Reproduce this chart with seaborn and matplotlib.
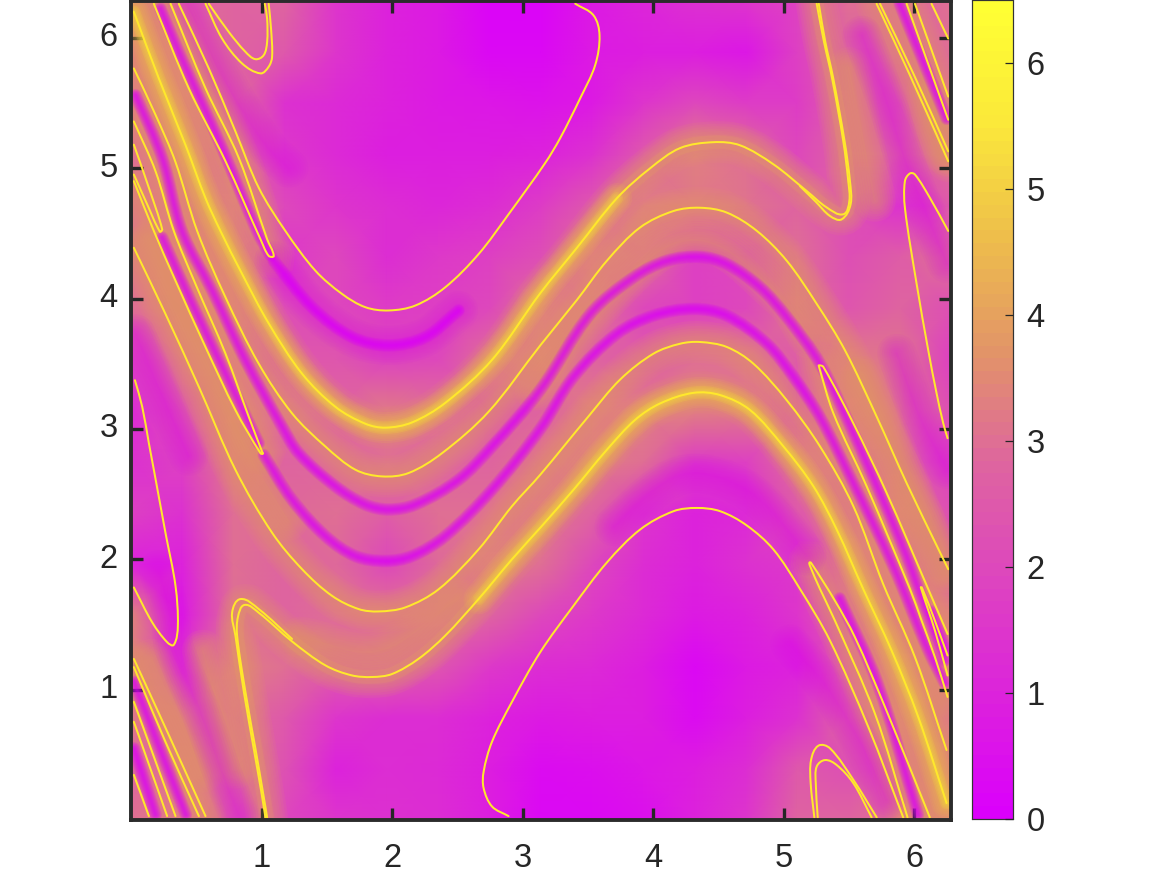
import numpy as np
import seaborn as sns
import matplotlib.pyplot as plt
from matplotlib.colors import LinearSegmentedColormap
from matplotlib.patches import PathPatch
from matplotlib.path import Path
from matplotlib.transforms import Affine2D

# field sampled on a coarse grid, rows from y=0 upwards, pi/8 spacing
field = [
    [3.0, 3.3, 2.5, 2.0, 1.5, 1.4, 1.3, 0.9, 0.3, 0.3, 0.5, 1.0, 1.5, 2.8, 2.8, 3.0, 3.5],
    [2.8, 3.2, 3.0, 2.3, 1.0, 1.3, 1.2, 0.9, 0.4, 0.5, 0.7, 0.9, 1.3, 2.5, 2.2, 3.0, 3.3],
    [3.2, 3.0, 3.0, 2.5, 1.5, 1.3, 1.3, 1.0, 0.8, 0.9, 0.9, 0.4, 0.9, 1.4, 2.8, 3.3, 3.0],
    [3.3, 1.8, 3.3, 3.0, 2.6, 2.8, 2.4, 1.6, 1.3, 1.2, 0.9, 0.3, 0.8, 1.0, 2.6, 3.3, 3.0],
    [3.4, 0.8, 3.0, 2.8, 3.0, 3.1, 3.0, 2.8, 2.0, 1.6, 1.2, 0.8, 1.0, 1.5, 2.8, 3.0, 3.2],
    [1.0, 1.0, 3.0, 2.8, 2.9, 2.0, 2.9, 3.2, 3.0, 2.0, 1.3, 1.0, 1.4, 1.6, 3.0, 3.0, 2.5],
    [1.8, 1.4, 3.0, 2.9, 3.0, 2.6, 3.0, 3.0, 3.2, 2.8, 1.5, 1.0, 1.2, 2.5, 2.8, 3.2, 2.2],
    [1.4, 1.8, 3.2, 2.8, 2.8, 3.0, 2.8, 2.8, 3.1, 3.3, 3.0, 1.7, 1.8, 3.0, 3.0, 2.6, 1.8],
    [1.2, 2.4, 3.2, 3.0, 2.8, 3.2, 3.0, 2.6, 2.8, 3.2, 3.3, 3.3, 3.2, 2.4, 3.2, 3.0, 2.2],
    [1.8, 3.0, 3.0, 2.5, 2.4, 1.9, 2.0, 3.0, 3.3, 2.8, 2.5, 3.0, 3.0, 2.6, 3.2, 3.1, 1.8],
    [3.0, 3.3, 3.2, 2.2, 2.0, 1.7, 1.8, 2.0, 3.2, 3.0, 2.0, 1.8, 2.0, 3.0, 2.4, 2.8, 2.2],
    [3.1, 3.2, 3.2, 1.6, 2.0, 1.3, 1.6, 1.8, 2.2, 3.2, 3.0, 1.8, 2.0, 3.0, 2.2, 2.6, 3.0],
    [3.1, 3.0, 3.2, 2.0, 1.5, 1.3, 1.1, 1.3, 1.7, 2.5, 3.3, 3.2, 3.1, 2.8, 2.2, 1.4, 2.5],
    [2.8, 3.2, 3.0, 1.6, 1.2, 0.9, 0.9, 0.9, 1.0, 1.4, 2.5, 3.3, 3.0, 2.0, 2.8, 2.8, 3.0],
    [3.0, 3.3, 3.0, 1.4, 1.2, 1.0, 0.8, 0.7, 0.6, 0.8, 1.5, 2.0, 1.7, 1.7, 2.8, 2.4, 3.0],
    [3.2, 3.3, 2.8, 2.5, 1.5, 1.0, 0.8, 0.3, 0.3, 0.8, 0.9, 0.9, 0.7, 1.8, 2.8, 2.8, 3.0],
    [3.3, 2.8, 2.8, 2.8, 1.5, 1.0, 0.8, 0.2, 0.2, 0.8, 1.1, 1.4, 1.5, 1.9, 3.0, 2.8, 3.0],
]

# yellow contour lines
arc_high = [(.366, 6.262), (.596, 5.766), (.8, 5.283), (.979, 4.85), (1.183, 4.519), (1.413, 4.214), (1.617, 4.036),
            (1.796, 3.934), (1.974, 3.909), (2.179, 3.947), (2.408, 4.087), (2.663, 4.341), (2.893, 4.647),
            (3.174, 5.041), (3.289, 5.232), (3.442, 5.537), (3.557, 5.792), (3.59, 6.02), (3.544, 6.173), (3.404, 6.262)]
arc_301 = [(.022, 6.2), (.213, 5.69), (.417, 5.18), (.571, 4.77), (.685, 4.52), (.851, 4.19), (1.055, 3.81),
           (1.31, 3.425), (1.566, 3.17), (1.796, 3.04), (1.95, 3.01), (2.153, 3.05), (2.408, 3.2), (2.766, 3.53),
           (3.135, 4.04), (3.417, 4.39), (3.723, 4.77), (3.978, 5.0), (4.208, 5.155), (4.463, 5.2), (4.667, 5.176),
           (4.923, 5.03), (5.178, 4.825), (5.33, 4.7), (5.458, 4.647), (5.504, 4.748), (5.496, 4.9), (5.458, 5.206),
           (5.372, 5.69), (5.31, 5.97), (5.254, 6.262)]
arc_301_b = [(5.126, 4.863), (5.25, 4.74), (5.356, 4.634), (5.445, 4.608), (5.514, 4.723), (5.509, 4.9), (5.468, 5.206),
             (5.381, 5.69), (5.32, 5.97), (5.27, 6.262)]
arc_263 = [(.022, 5.766), (.188, 5.41), (.34, 5.05), (.507, 4.519), (.724, 4.01), (.979, 3.5), (1.234, 3.12),
           (1.49, 2.865), (1.72, 2.687), (1.923, 2.636), (2.127, 2.662), (2.383, 2.814), (2.74, 3.132), (3.136, 3.641),
           (3.417, 3.99), (3.646, 4.29), (3.9, 4.545), (4.157, 4.672), (4.361, 4.697), (4.565, 4.66), (4.795, 4.52),
           (5.025, 4.29), (5.254, 3.96), (5.471, 3.603), (5.714, 3.094), (5.943, 2.585), (6.2, 2.051), (6.262, 1.924)]
arc_160 = [(.022, 4.39), (.264, 3.883), (.52, 3.323), (.8, 2.687), (1.081, 2.204), (1.311, 1.924), (1.54, 1.72),
           (1.745, 1.618), (1.898, 1.6), (2.102, 1.631), (2.357, 1.77), (2.663, 2.076), (2.919, 2.407), (3.136, 2.649),
           (3.5, 3.09), (3.749, 3.38), (4.004, 3.578), (4.208, 3.654), (4.361, 3.667), (4.565, 3.629), (4.77, 3.5),
           (5.024, 3.221), (5.28, 2.865), (5.535, 2.407), (5.764, 1.809), (6.007, 1.249), (6.249, .537)]
arc_110 = [(1.043, .02), (1.01, .219), (.953, .55), (.877, .982), (.813, 1.415), (.82, 1.56), (.87, 1.65), (.979, 1.59),
           (1.234, 1.37), (1.49, 1.186), (1.69, 1.11), (1.847, 1.097), (2.0, 1.12), (2.204, 1.237), (2.408, 1.415),
           (2.663, 1.695), (2.919, 2.0), (3.136, 2.242), (3.391, 2.534), (3.646, 2.84), (3.863, 3.07), (4.055, 3.196),
           (4.31, 3.277), (4.514, 3.26), (4.744, 3.145), (5.0, 2.865), (5.229, 2.56), (5.407, 2.229), (5.611, 1.771),
           (5.828, 1.3), (6.032, .791), (6.249, .13)]
arc_110_b = [(1.03, .02), (.998, .219), (.94, .55), (.865, .982), (.8, 1.415), (.775, 1.593), (.839, 1.695),
             (.979, 1.618), (1.234, 1.389)]
arc_238 = [(2.893, .03), (2.766, .104), (2.702, .244), (2.702, .371), (2.766, .6), (2.919, .906), (3.136, 1.288),
           (3.391, 1.644), (3.646, 1.975), (3.902, 2.229), (4.157, 2.369), (4.336, 2.394), (4.514, 2.369), (4.718, 2.26),
           (4.922, 2.076), (5.127, 1.771), (5.356, 1.376), (5.649, .715), (5.917, .02)]
lobe_top = [(.303, 6.262), (.571, 5.613), (.826, 5.079), (1.043, 4.456), (1.094, 4.328), (1.055, 4.328), (.992, 4.456),
            (.724, 5.054), (.443, 5.613), (.175, 6.262)]
lobe_mid = [(.022, 5.359), (.188, 4.977), (.328, 4.519), (.494, 4.112), (.724, 3.578), (.902, 3.094), (1.004, 2.827),
            (1.01, 2.81), (.992, 2.814), (.8, 3.145), (.571, 3.628), (.341, 4.137), (.175, 4.519), (.022, 4.901)]
lobe_left = [(.022, 5.181), (.137, 4.85), (.239, 4.532), (.221, 4.514), (.124, 4.723), (.022, 4.952)]
lobe_low = [(.03, 3.374), (.086, 3.17), (.137, 2.89), (.175, 2.687), (.264, 2.204), (.341, 1.796), (.359, 1.491),
            (.328, 1.344), (.277, 1.364), (.162, 1.517), (.022, 1.784)]
lobe_i = [(6.257, 1.427), (6.109, 1.771), (5.79, 2.509), (5.535, 3.043), (5.305, 3.476), (5.272, 3.488), (5.272, 3.476),
          (5.382, 3.12), (5.637, 2.56), (5.969, 1.771), (6.058, 1.529), (6.16, 1.249), (6.257, .944)]
lobe_k = [(6.121, .02), (5.777, .868), (5.547, 1.402), (5.394, 1.682), (5.21, 1.974), (5.198, 1.974), (5.203, 1.949),
          (5.28, 1.771), (5.394, 1.529), (5.7, .817), (5.95, .02)]
lobe_small = [(6.257, 1.262), (6.16, 1.529), (6.06, 1.784), (6.052, 1.784), (6.16, 1.453), (6.257, 1.109)]
lobe_tall = [(6.262, 4.519), (6.121, 4.774), (6.007, 4.952), (5.968, 4.96), (5.93, 4.901), (5.93, 4.697), (6.02, 4.112),
             (6.109, 3.603), (6.173, 3.272), (6.224, 3.043), (6.257, 2.929)]
cap_a = [(.571, 6.262), (.698, 5.995), (.851, 5.804), (.992, 5.728), (1.055, 5.779), (1.081, 5.855), (1.073, 6.071),
         (1.055, 6.262)]
cap_b = [(.596, 6.262), (.749, 6.046), (.877, 5.893), (.953, 5.837), (1.017, 5.868), (1.043, 5.97), (1.043, 6.148),
         (1.025, 6.262)]
foot_a = [(5.236, .02), (5.208, .282), (5.211, .46), (5.267, .57), (5.356, .55), (5.535, .308), (5.714, .02)]
foot_b = [(5.262, .02), (5.247, .282), (5.254, .41), (5.318, .46), (5.407, .422), (5.535, .282), (5.675, .02)]
top_r1 = [(5.713, 6.262), (5.968, 5.715), (6.262, 5.054)]
top_r2 = [(5.739, 6.262), (5.994, 5.728), (6.262, 5.13)]
top_r3 = [(5.943, 6.262), (6.262, 5.372)]
top_r4 = [(6.007, 6.262), (6.262, 5.55)]
top_r5 = [(6.134, 6.262), (6.262, 5.995)]
low_l1 = [(.022, 1.236), (.29, .651), (.571, .03)]
low_l2 = [(.022, 1.173), (.264, .6), (.52, .03)]
low_l3 = [(.022, .906), (.341, .03)]
low_l4 = [(.022, .753), (.277, .03)]
low_l5 = [(.022, .346), (.137, .03)]

# brightest stretches of the orange bands around the strongest lines
glow_301 = [(.022, 6.2), (.213, 5.69), (.417, 5.18), (.571, 4.77), (.685, 4.52), (.851, 4.19), (1.055, 3.81),
            (1.31, 3.425), (1.566, 3.17), (1.796, 3.04), (1.95, 3.01), (2.153, 3.05), (2.408, 3.2), (2.766, 3.53),
            (3.135, 4.04), (3.417, 4.39), (3.723, 4.77)]
glow_110 = [(2.663, 1.695), (2.919, 2.0), (3.136, 2.242), (3.391, 2.534), (3.646, 2.84), (3.863, 3.07), (4.055, 3.196),
            (4.31, 3.277), (4.514, 3.26), (4.744, 3.145), (5.0, 2.865), (5.229, 2.56), (5.407, 2.229), (5.611, 1.771),
            (5.828, 1.3), (6.032, .791), (6.249, .13)]

# wide orange stripes that have no contour line inside them
band_a = [(.15, 4.45), (.4, 3.9), (.65, 3.35), (.9, 2.8), (1.2, 2.3)]
band_b = [(5.6, 3.4), (5.85, 2.85), (6.1, 2.25), (6.25, 1.9)]
band_c = [(5.5, 5.77), (5.7, 4.75)]
band_d = [(6.1, 5.6), (6.15, 5.38), (6.25, 5.1)]
band_e = [(.16, 1.23), (.55, .37)]
band_f = [(.55, 1.3), (.8, .4)]
band_g = [(1.3, 1.4), (1.9, 1.3), (2.5, 1.7)]
band_h = [(3.1, 3.3), (3.6, 3.95), (4.3, 4.45), (5.0, 4.0), (5.2, 3.7)]

# dark magenta ridges between the bands
ridge_a = [(.035, 5.56), (.239, 5.08), (.39, 4.519), (.622, 4.061), (.877, 3.527), (1.158, 3.018), (1.285, 2.814),
           (1.566, 2.56), (1.796, 2.42), (1.974, 2.382), (2.179, 2.42), (2.51, 2.61), (2.766, 2.865), (3.136, 3.3),
           (3.519, 3.883), (3.851, 4.163), (4.106, 4.29), (4.361, 4.32), (4.565, 4.265), (4.82, 4.087), (5.025, 3.858),
           (5.28, 3.5), (5.535, 2.967), (5.739, 2.509), (5.943, 2.025), (6.02, 1.81), (6.236, 1.224)]
ridge_b = [(1.017, 2.8), (1.234, 2.458), (1.49, 2.178), (1.719, 2.025), (1.949, 1.987), (2.153, 2.025), (2.408, 2.178),
           (2.766, 2.534), (3.136, 3.0), (3.391, 3.4), (3.723, 3.73), (4.004, 3.87), (4.31, 3.921), (4.565, 3.87),
           (4.872, 3.654), (5.076, 3.4), (5.28, 3.09), (5.535, 2.585), (5.84, 1.95), (6.11, 1.3), (6.236, 1.05)]
ridge_c = [(1.094, 4.29), (1.387, 3.934), (1.694, 3.705), (1.974, 3.641), (2.255, 3.705), (2.51, 3.909)]
ridge_d = [(.43, 6.262), (.724, 5.665), (1.03, 5.18), (1.209, 5.0)]
ridge_e = [(.226, 6.224), (.39, 5.84), (.698, 5.156), (.966, 4.519), (1.07, 4.33)]
ridge_f = [(.239, 4.468), (.469, 3.96), (.724, 3.425), (.979, 2.89)]
ridge_g = [(.035, 3.73), (.239, 3.25), (.443, 2.79)]
ridge_h = [(.213, 1.92), (.3, 1.567), (.33, 1.325), (.545, .8), (.723, .295), (.826, .04)]
ridge_i = [(5.43, 1.7), (5.72, 1.05), (6.03, .04)]
ridge_j = [(5.6, 6.02), (5.764, 5.588), (5.943, 5.028), (6.096, 4.647), (6.25, 4.27)]
ridge_k = [(5.89, 6.262), (6.25, 5.38)]
ridge_l = [(5.867, 3.58), (6.045, 3.09), (6.25, 2.69)]
ridge_m = [(.022, .55), (.188, .04)]
ridge_n = [(.022, 1.06), (.42, .04)]
ridge_o = [(6.134, 1.6), (6.25, 1.3)]
ridge_p = [(5.05, 1.35), (5.33, 1.02), (5.59, .59), (5.79, .15)]
ridge_q = [(3.7, 2.25), (4.08, 2.585), (4.336, 2.66), (4.67, 2.56), (4.92, 2.357), (5.18, 2.025)]

tick_vals = [1, 2, 3, 4, 5, 6]
bar_ticks = [0, 1, 2, 3, 4, 5, 6]
cmap_colors = ['#DB00FB', '#DC22DC', '#DD44C0', '#DE64A0', '#E29468', '#EEBE4B', '#FBE93A', '#FFFF33']

contour_lines = [arc_high, arc_301, arc_301_b, arc_263, arc_160, arc_110, arc_110_b, arc_238, lobe_top, lobe_mid,
                 lobe_left, lobe_low, lobe_i, lobe_k, lobe_small, lobe_tall, cap_a, cap_b, foot_a, foot_b, top_r1,
                 top_r2, top_r3, top_r4, top_r5, low_l1, low_l2, low_l3, low_l4, low_l5]
sharp_ridges = [ridge_a, ridge_b, ridge_c, ridge_e, ridge_f, ridge_i, ridge_k, ridge_m, ridge_n, ridge_o]
wide_ridges = [ridge_c, ridge_d, ridge_g, ridge_h, ridge_j, ridge_l, ridge_p, ridge_q]
soft_bands = [arc_301, arc_110, arc_263, arc_160, lobe_mid, lobe_top, top_r1, top_r3, low_l1, lobe_i, lobe_k, band_a,
              band_b, band_c, band_d, band_e, band_f, band_g, band_h]
bright_bands = [glow_301, glow_110]


def smooth_path(pts):
    # bezier through the read points, only for drawing
    pts = np.array(pts, dtype=float)
    n = len(pts)
    tangents = []
    for i in range(n):
        d = pts[min(i + 1, n - 1)] - pts[max(i - 1, 0)]
        tangents.append(d / (np.hypot(*d) + 1e-9))
    verts, codes = [pts[0]], [Path.MOVETO]
    for i in range(n - 1):
        seg = np.hypot(*(pts[i + 1] - pts[i])) / 3
        verts += [pts[i] + tangents[i] * seg, pts[i + 1] - tangents[i + 1] * seg, pts[i + 1]]
        codes += [Path.CURVE4] * 3
    return Path(verts, codes)


def stroke(ax, pts, color, lw, alpha=1.0, z=3):
    ax.add_patch(PathPatch(smooth_path(pts), fc='none', ec=color, lw=lw, alpha=alpha, zorder=z, capstyle='round'))


def soft(ax, pts, color, width, alpha, z, n=9):
    # nested strokes so the edge fades out
    for w in np.linspace(width, 1.5, n):
        stroke(ax, pts, color, w, alpha, z)


sns.set_theme(style='white')
plt.rcParams['font.family'] = ['Liberation Sans', 'DejaVu Sans']

fig = plt.figure(figsize=(11.66, 8.75), dpi=100)
ax = fig.add_axes([131 / 1166, 55 / 875, 820 / 1166, 819 / 875])
cax = fig.add_axes([971.5 / 1166, 56 / 875, 41 / 1166, 819 / 875])

cmap = LinearSegmentedColormap.from_list('field', cmap_colors, N=64)
sns.heatmap(np.array(field), ax=ax, cbar_ax=cax, cmap=cmap, vmin=0, vmax=6.5, shading='gouraud')

# heatmap draws on cell indices, put the mesh back on the 0..2pi axis
step = 2 * np.pi / (len(field) - 1)
ax.collections[0].set_transform(Affine2D().scale(step) + ax.transData)
ax.set_xlim(0, 2 * np.pi)
ax.set_ylim(0, 2 * np.pi)

for b in soft_bands:
    soft(ax, b, '#E2966A', 30, 0.1, 2.1)
stroke(ax, arc_301, '#EEBE4B', 10, 0.12, 2.55)
stroke(ax, arc_110, '#EEBE4B', 10, 0.12, 2.55)
for b in bright_bands:
    soft(ax, b, '#EEBE4B', 22, 0.10, 2.6)
    soft(ax, b, '#F8E03C', 9, 0.13, 2.7, n=5)
for r in wide_ridges:
    soft(ax, r, '#DB08F4', 28, 0.055, 2.75)
for r in sharp_ridges:
    soft(ax, r, '#DA00FA', 9, 0.2, 2.8, n=6)
for c in contour_lines:
    stroke(ax, c, '#FFE82C', 1.45, 1.0, 3)

ax.set_axisbelow(False)
ax.set_xticks(tick_vals)
ax.set_yticks(tick_vals)
ax.set_xticklabels(tick_vals, rotation=0)
ax.set_yticklabels(tick_vals, rotation=0)
ax.tick_params(axis='both', direction='in', length=8.5, width=2.4, color='#262626', labelcolor='#262626',
               labelsize=23.5, top=True, right=True, bottom=True, left=True)
ax.tick_params(axis='x', pad=16.5)
ax.tick_params(axis='y', pad=9.5)
for s in ax.spines.values():
    s.set_visible(True)
    s.set_linewidth(2.8)
    s.set_color('#2b2b2b')
    s.set_zorder(6)

cax.set_axisbelow(False)
cax.set_yticks(bar_ticks)
cax.tick_params(axis='y', direction='in', length=6, width=0.9, color='#262626', labelcolor='#262626',
                labelsize=23.5, right=True, left=False, pad=10)
for s in cax.spines.values():
    s.set_visible(True)
    s.set_linewidth(0.8)
    s.set_color('#333333')

fig.savefig('out.png', dpi=100)
